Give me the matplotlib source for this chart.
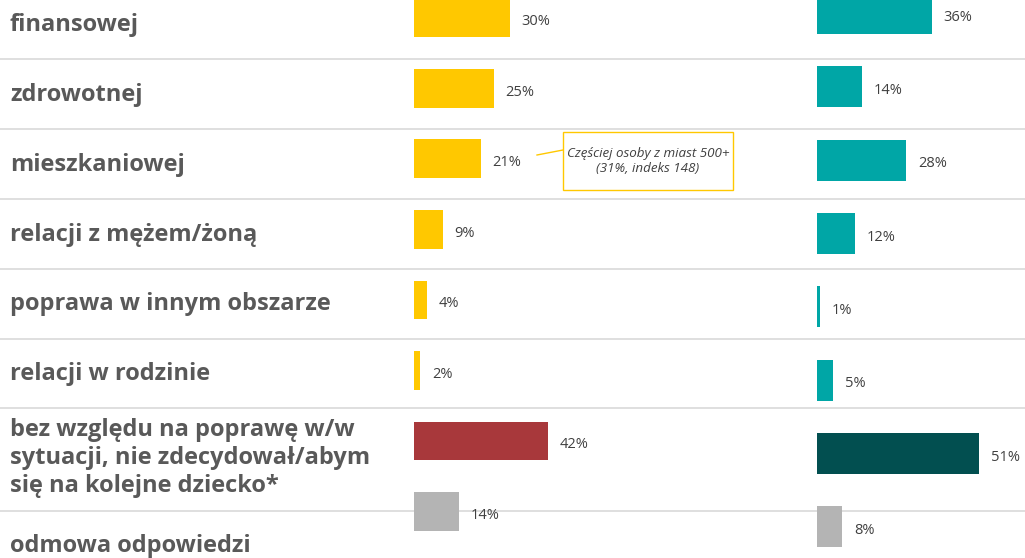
import matplotlib.pyplot as plt
from matplotlib.patches import Rectangle

# Data
categories = [
    "finansowej",
    "zdrowotnej",
    "mieszkaniowej",
    "relacji z mężem/żoną",
    "poprawa w innym obszarze",
    "relacji w rodzinie",
    "bez względu na poprawę w/w\nsytuacji, nie zdecydował/abym\nsię na kolejne dziecko*",
    "odmowa odpowiedzi",
]
left_values = [30, 25, 21, 9, 4, 2, 42, 14]
right_values = [36, 14, 28, 12, 1, 5, 51, 8]
note_lines = ["Częściej osoby z miast 500+", "(31%, indeks 148)"]

# Colours
YELLOW = "#FFC800"
TEAL = "#00A6A6"
DARK_TEAL = "#024F50"
RED = "#A8383B"
GREY = "#B4B4B4"
LABEL = "#595959"
TEXT = "#404040"
LINE = "#D9D9D9"
FONT = "Open Sans"

left_colors = [YELLOW] * 6 + [RED, GREY]
right_colors = [TEAL] * 6 + [DARK_TEAL, GREY]

W, H = 1025, 558
PX_PER_PCT = 3.185

fig = plt.figure(figsize=(W / 100, H / 100), dpi=100)

# Background layer in pixel coordinates: row separators and category labels
ax_bg = fig.add_axes([0, 0, 1, 1])
ax_bg.set_xlim(0, W)
ax_bg.set_ylim(H, 0)
ax_bg.axis("off")

for y in [59, 129, 199, 269, 339, 408, 511]:
    ax_bg.axhline(y, color=LINE, linewidth=1.2, zorder=0)

label_y = [25, 95, 165, 235, 304, 374, 458, 546]
for lab, y in zip(categories, label_y):
    ax_bg.text(
        10, y, lab, fontsize=17, fontweight="bold", color=LABEL,
        family=FONT, va="center", ha="left", linespacing=1.2,
    )

# Callout box
ax_bg.add_patch(
    Rectangle((563, 132), 170, 58, fill=False, edgecolor=YELLOW, linewidth=1.0)
)
ax_bg.plot([537, 563], [155, 150], color=YELLOW, linewidth=1.0)
ax_bg.text(
    648, 161, "\n".join(note_lines), fontsize=9.6, style="italic", color=TEXT,
    family=FONT, ha="center", va="center", linespacing=1.25,
)


def bar_panel(x0_px, row0_px, pitch_px, bar_px, values, colors):
    left = x0_px / W
    ax = fig.add_axes([left, 0, 1 - left, 1])
    ax.patch.set_alpha(0)
    ax.axis("off")
    ax.set_xlim(0, (W - x0_px) / PX_PER_PCT)
    ax.set_ylim((H - row0_px) / pitch_px, -row0_px / pitch_px)
    pos = list(range(len(values)))
    ax.barh(pos, values, height=bar_px / pitch_px, color=colors, zorder=2)
    for p, v in zip(pos, values):
        ax.annotate(
            f"{v}%", (v, p), xytext=(8.5, -2.8), textcoords="offset points",
            fontsize=10.5, color=TEXT, family=FONT, va="center", ha="left",
        )
    return ax


bar_panel(414, 17.7, 70.55, 38.7, left_values, left_colors)
bar_panel(817, 13.5, 73.3, 41, right_values, right_colors)

fig.savefig("out.png", dpi=100)
